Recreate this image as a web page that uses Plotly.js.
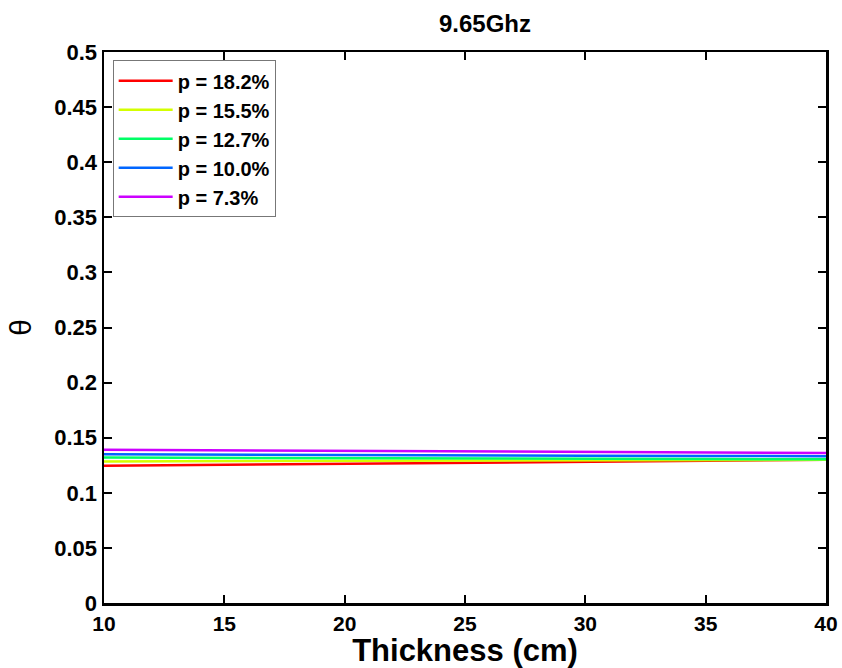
<!DOCTYPE html>
<html>
<head>
<meta charset="utf-8">
<script src="https://cdn.plot.ly/plotly-3.0.1.min.js"></script>
<style>html,body{margin:0;padding:0;background:#fff;}#chart{width:842px;height:668px;}</style>
</head>
<body>
<div id="chart"></div>
<script>
const thickness = [10, 15, 20, 25, 30, 35, 40];
const names = ["p = 18.2%", "p = 15.5%", "p = 12.7%", "p = 10.0%", "p = 7.3%"];
const colors = ["#ff0000", "#d4ff00", "#00ff66", "#0066ff", "#cc00ff"];
const theta182 = [0.1245, 0.1255, 0.1265, 0.1275, 0.1282, 0.1290, 0.1300];
const theta155 = [0.1285, 0.1287, 0.1290, 0.1292, 0.1295, 0.1297, 0.1300];
const theta127 = [0.1320, 0.1316, 0.1312, 0.1310, 0.1308, 0.1306, 0.1305];
const theta100 = [0.1350, 0.1345, 0.1341, 0.1339, 0.1336, 0.1334, 0.1332];
const theta73  = [0.1390, 0.1385, 0.1380, 0.1375, 0.1370, 0.1366, 0.1362];
const series = [theta182, theta155, theta127, theta100, theta73];

const traces = series.map((y, i) => ({
  x: thickness, y: y, type: "scatter", mode: "lines", name: names[i],
  line: {color: colors[i], width: 2.5}
}));

const font = {family: "Liberation Sans, Arial, sans-serif", color: "#000"};
const layout = {
  width: 842, height: 668,
  margin: {l: 104, r: 16, t: 52, b: 65},
  paper_bgcolor: "#fff", plot_bgcolor: "#fff",
  title: {text: "<b>9.65Ghz</b>", font: Object.assign({size: 24}, font), x: 0.576, xanchor: "center", y: 0.965, yanchor: "middle"},
  xaxis: {
    range: [10, 40], tickvals: [10, 15, 20, 25, 30, 35, 40],
    ticktext: ["<b>10</b>", "<b>15</b>", "<b>20</b>", "<b>25</b>", "<b>30</b>", "<b>35</b>", "<b>40</b>"],
    ticks: "inside", ticklen: 8, tickwidth: 2, tickcolor: "#000",
    showline: true, linecolor: "#000", linewidth: 2.5, mirror: "ticks",
    showgrid: false, zeroline: false,
    tickfont: Object.assign({size: 21}, font),
    title: {text: "<b>Thickness (cm)</b>", font: Object.assign({size: 31}, font), standoff: 8}
  },
  yaxis: {
    range: [0, 0.5],
    tickvals: [0, 0.05, 0.1, 0.15, 0.2, 0.25, 0.3, 0.35, 0.4, 0.45, 0.5],
    ticktext: ["<b>0</b>", "<b>0.05</b>", "<b>0.1</b>", "<b>0.15</b>", "<b>0.2</b>", "<b>0.25</b>", "<b>0.3</b>", "<b>0.35</b>", "<b>0.4</b>", "<b>0.45</b>", "<b>0.5</b>"],
    ticks: "inside", ticklen: 8, tickwidth: 2, tickcolor: "#000",
    showline: true, linecolor: "#000", linewidth: 2.5, mirror: "ticks",
    showgrid: false, zeroline: false,
    tickfont: Object.assign({size: 22}, font),
    title: {text: "θ", font: Object.assign({size: 30}, font), standoff: 14}
  },
  showlegend: true,
  legend: {
    x: 0.012, y: 0.985, xanchor: "left", yanchor: "top",
    bgcolor: "#fff", bordercolor: "#777", borderwidth: 1,
    font: Object.assign({size: 20, weight: "bold"}, font),
    tracegroupgap: 0, itemwidth: 54
  }
};
Plotly.newPlot("chart", traces, layout, {displayModeBar: false, staticPlot: true});
</script>
</body>
</html>
